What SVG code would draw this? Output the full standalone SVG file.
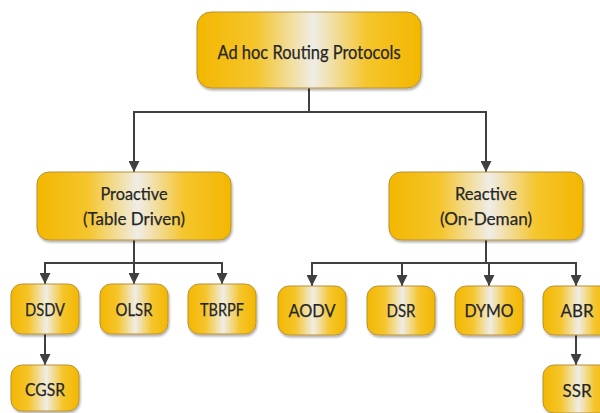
<svg xmlns="http://www.w3.org/2000/svg" width="600" height="413" viewBox="0 0 600 413">
  <defs>
    <linearGradient id="gold" x1="0" y1="0" x2="1" y2="0">
      <stop offset="0" stop-color="#F3B700"/>
      <stop offset="0.26" stop-color="#F5C52C"/>
      <stop offset="0.52" stop-color="#EFEDE6"/>
      <stop offset="0.76" stop-color="#F5C52C"/>
      <stop offset="1" stop-color="#F3B700"/>
    </linearGradient>
    <filter id="shadow" x="-10%" y="-10%" width="130%" height="140%">
      <feDropShadow dx="1" dy="2" stdDeviation="1.2" flood-color="#000" flood-opacity="0.3"/>
    </filter>
    <marker id="arrow" markerUnits="userSpaceOnUse" markerWidth="11" markerHeight="11" viewBox="0 0 10 10" refX="10" refY="5" orient="auto">
      <path d="M0,0 L10,5 L0,10 z" fill="#404040"/>
    </marker>
  </defs>
  <style>
    .box { fill: url(#gold); stroke: #B8923A; stroke-width: 1; filter: url(#shadow); }
    .lbl { font-family: Lato, "Noto Sans", sans-serif; fill: #262626; stroke: #262626; stroke-width: 0.25; text-anchor: middle; dominant-baseline: central; }
    .big { font-size: 19px; }
    .mid { font-size: 18px; }
    .sm { font-size: 18px; }
    .wire { fill: none; stroke: #404040; stroke-width: 2; }
    .arr { marker-end: url(#arrow); }
  </style>

  <g id="connectors">
    <path class="wire" d="M309,88 V112"/>
    <path class="wire arr" d="M309,112 H134 V172"/>
    <path class="wire arr" d="M309,112 H486 V172"/>
    <path class="wire" d="M134,240 V263"/>
    <path class="wire arr" d="M134,263 H45 V284"/>
    <path class="wire arr" d="M134,263 V284"/>
    <path class="wire arr" d="M134,263 H222 V284"/>
    <path class="wire arr" d="M45,334 V365"/>
    <path class="wire" d="M486,240 V263"/>
    <path class="wire arr" d="M486,263 H312 V286"/>
    <path class="wire arr" d="M486,263 H402 V286"/>
    <path class="wire arr" d="M486,263 H489 V286"/>
    <path class="wire arr" d="M486,263 H576 V286"/>
    <path class="wire arr" d="M576,335 V365"/>
  </g>

  <g id="root">
    <rect class="box" x="197" y="12" width="224" height="76" rx="14"/>
    <text class="lbl big" x="309" y="51" textLength="183" lengthAdjust="spacingAndGlyphs">Ad hoc Routing Protocols</text>
  </g>

  <g id="proactive">
    <rect class="box" x="37" y="172" width="194" height="68" rx="12"/>
    <text class="lbl mid" x="134" y="193" textLength="67" lengthAdjust="spacingAndGlyphs">Proactive</text>
    <text class="lbl mid" x="134" y="218" textLength="102" lengthAdjust="spacingAndGlyphs">(Table Driven)</text>
  </g>

  <g id="reactive">
    <rect class="box" x="389" y="172" width="194" height="68" rx="12"/>
    <text class="lbl mid" x="486" y="193" textLength="62" lengthAdjust="spacingAndGlyphs">Reactive</text>
    <text class="lbl mid" x="486" y="218" textLength="92" lengthAdjust="spacingAndGlyphs">(On-Deman)</text>
  </g>

  <g id="dsdv">
    <rect class="box" x="11" y="284" width="68" height="50" rx="11"/>
    <text class="lbl sm" x="45" y="309" textLength="40" lengthAdjust="spacingAndGlyphs">DSDV</text>
  </g>
  <g id="olsr">
    <rect class="box" x="100" y="284" width="68" height="50" rx="11"/>
    <text class="lbl sm" x="134" y="309" textLength="37" lengthAdjust="spacingAndGlyphs">OLSR</text>
  </g>
  <g id="tbrpf">
    <rect class="box" x="188" y="284" width="68" height="50" rx="11"/>
    <text class="lbl sm" x="222" y="309" textLength="44" lengthAdjust="spacingAndGlyphs">TBRPF</text>
  </g>
  <g id="cgsr">
    <rect class="box" x="11" y="365" width="68" height="46" rx="11"/>
    <text class="lbl sm" x="45" y="389" textLength="40" lengthAdjust="spacingAndGlyphs">CGSR</text>
  </g>

  <g id="aodv">
    <rect class="box" x="278" y="286" width="68" height="49" rx="11"/>
    <text class="lbl sm" x="312" y="310" textLength="47" lengthAdjust="spacingAndGlyphs">AODV</text>
  </g>
  <g id="dsr">
    <rect class="box" x="367" y="286" width="68" height="49" rx="11"/>
    <text class="lbl sm" x="401" y="310" textLength="29" lengthAdjust="spacingAndGlyphs">DSR</text>
  </g>
  <g id="dymo">
    <rect class="box" x="455" y="286" width="68" height="49" rx="11"/>
    <text class="lbl sm" x="489" y="310" textLength="49" lengthAdjust="spacingAndGlyphs">DYMO</text>
  </g>
  <g id="abr">
    <rect class="box" x="543" y="286" width="68" height="49" rx="11"/>
    <text class="lbl sm" x="577" y="310" textLength="33" lengthAdjust="spacingAndGlyphs">ABR</text>
  </g>
  <g id="ssr">
    <rect class="box" x="543" y="365" width="68" height="48" rx="11"/>
    <text class="lbl sm" x="577" y="390" textLength="29" lengthAdjust="spacingAndGlyphs">SSR</text>
  </g>
</svg>
